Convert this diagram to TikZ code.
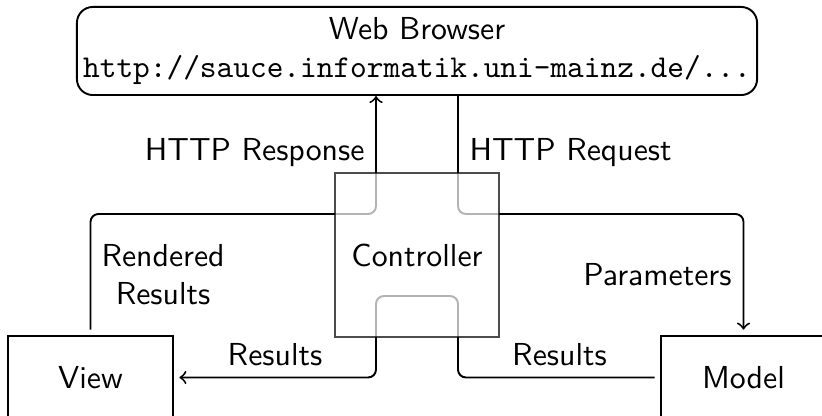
\documentclass[tikz,border=0pt]{standalone}
\begin{document}
\begin{tikzpicture}[x=0.3145pt, y=-0.3145pt, font=\sffamily, line width=0.6pt,
  box/.style={draw, rectangle, inner sep=0pt, minimum width=51.9pt, minimum height=26.1pt, outer sep=2pt},
  link/.style={->, rounded corners=2.5pt},
  ctrlbox/.style={draw, draw opacity=0.7, fill=white, fill opacity=0.7, text opacity=1,
    minimum size=51.6pt, inner sep=0pt}]
\useasboundingbox (0,0) rectangle (822,416);

% components
\node[draw, rounded corners=5pt, minimum width=213.9pt, minimum height=27.7pt,
      align=center, inner sep=0pt] (browser) at (417,51)
  {Web Browser\\\texttt{http://sauce.informatik.uni-mainz.de/...}};
\node[box] (view) at (90.5,377.5) {View};
\node[box] (model) at (743.5,377.5) {Model};

% bends of the connectors
\coordinate (resp) at (376,214);
\coordinate (req) at (458,214);
\coordinate (res1) at (458,296);
\coordinate (res2) at (376,296);

% connectors (drawn before the controller so they show through it)
\draw[link] (view.north) |- (resp) -- (resp |- browser.south);
\draw[link] (browser.south -| req) -- (req) -| (model.north);
\draw[link] (model.west) -| (res1) -- (res2) |- (view.east);

\node[ctrlbox] (ctrl) at (417,255) {Controller};

% labels
\node[left] (lresp) at (376,153) {HTTP Response};
\node[right] (lreq) at (458,153) {HTTP Request};
\node[right, align=center] (lrend) at (90,275) {Rendered\\Results};
\node[left] (lpar) at (743,275) {Parameters};
\node[above] (lres1) at (275,377.5) {Results};
\node[above] (lres2) at (559.5,377.5) {Results};
\end{tikzpicture}
\end{document}
